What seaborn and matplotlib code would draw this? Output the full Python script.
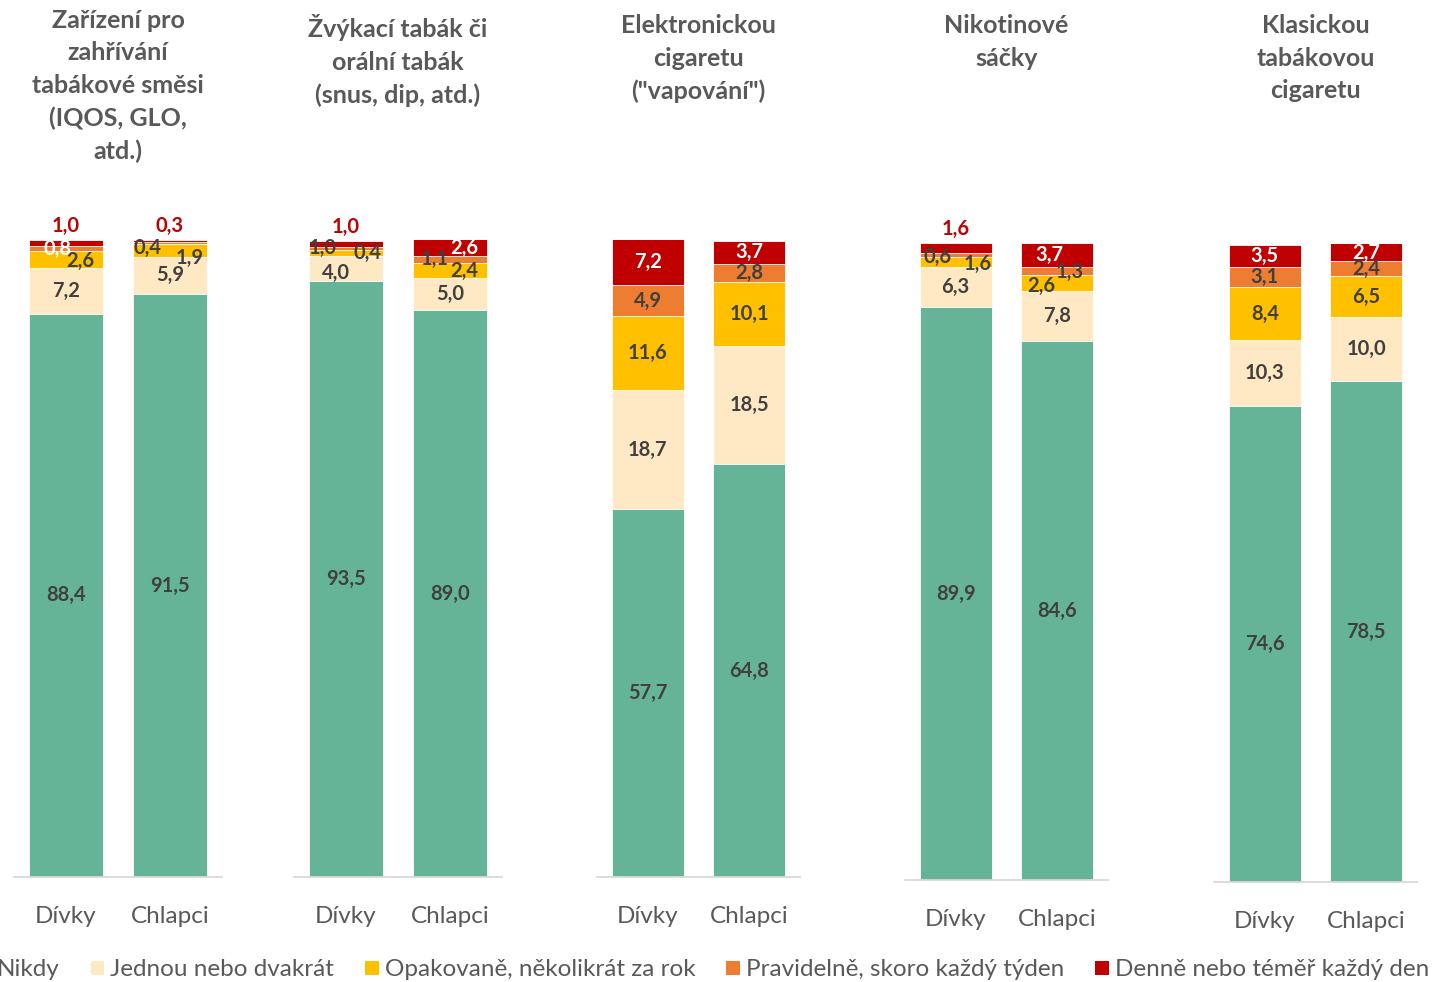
import numpy as np
import pandas as pd
import matplotlib
matplotlib.use("Agg")
import matplotlib.pyplot as plt
from matplotlib.patches import Patch
import seaborn as sns

# ---------------- data ----------------
titles = [
    "Zařízení pro\nzahřívání\ntabákové směsi\n(IQOS, GLO,\natd.)",
    "Žvýkací tabák či\norální tabák\n(snus, dip, atd.)",
    "Elektronickou\ncigaretu\n(\"vapování\")",
    "Nikotinové\nsáčky",
    "Klasickou\ntabákovou\ncigaretu",
]
genders = ["Dívky", "Chlapci"]
series_names = [
    "Nikdy",
    "Jednou nebo dvakrát",
    "Opakovaně, několikrát za rok",
    "Pravidelně, skoro každý týden",
    "Denně nebo téměř každý den",
]
# values per bar: (panel1 Dívky, panel1 Chlapci, panel2 Dívky, ...)
nikdy      = [88.4, 91.5, 93.5, 89.0, 57.7, 64.8, 89.9, 84.6, 74.6, 78.5]
jednou     = [7.2, 5.9, 4.0, 5.0, 18.7, 18.5, 6.3, 7.8, 10.3, 10.0]
opakovane  = [2.6, 1.9, 1.0, 2.4, 11.6, 10.1, 1.6, 2.6, 8.4, 6.5]
pravidelne = [0.8, 0.4, 0.4, 1.1, 4.9, 2.8, 0.6, 1.3, 3.1, 2.4]
denne      = [1.0, 0.3, 1.0, 2.6, 7.2, 3.7, 1.6, 3.7, 3.5, 2.7]

# ---------------- style ----------------
colors = ["#66B497", "#FFE9C4", "#FFC000", "#ED7D31", "#C00000"]
TXT = "#595959"
LBL = "#404040"
sns.set_theme(style="white")
plt.rcParams["font.family"] = ["Lato", "DejaVu Sans"]

W, H = 1448, 982
fig = plt.figure(figsize=(W / 100, H / 100), dpi=100)

# axes pixel boxes (left, right, top, bottom)
boxes = [(14, 222, 240, 877), (294, 502, 240, 877), (597, 800, 240, 877),
         (905, 1108, 243, 880), (1214, 1417, 244, 882)]
title_tops = [9, 14, 14, 14, 14]

# manual label nudges in pixels (dx, dy down) : key (bar, series)
nudges = {
    (0, 3): (-9, 0), (0, 2): (14, 1),
    (1, 3): (-22, 5), (1, 2): (20, 7),
    (2, 2): (-23, -5), (2, 3): (22, 5), (2, 1): (-10, 4),
    (3, 4): (14, 0), (3, 3): (-15, 0), (3, 2): (14, 0),
    (6, 3): (-18, 2), (6, 2): (22, 2),
    (7, 4): (-8, 0), (7, 3): (12, 1), (7, 2): (-16, 3),
    (9, 4): (0, 1), (9, 3): (0, 1),
}
white_labels = {(0, 3)}

data = pd.DataFrame({
    "bar": np.arange(10),
    "panel": np.repeat(np.arange(5), 2),
    "gender": genders * 5,
    series_names[0]: nikdy,
    series_names[1]: jednou,
    series_names[2]: opakovane,
    series_names[3]: pravidelne,
    series_names[4]: denne,
})
cum = data[series_names].cumsum(axis=1)

PX = 0.72  # points per pixel at 100 dpi
VFS = 14.5

for p in range(5):
    l, r, t, b = boxes[p]
    ax = fig.add_axes([l / W, 1 - b / H, (r - l) / W, (b - t) / H])
    sub = data[data.panel == p]
    subcum = cum[data.panel == p]
    # stacked bars drawn as overlapping cumulative bars (top layer first)
    for k in range(4, -1, -1):
        d = pd.DataFrame({"gender": sub["gender"].values,
                          "val": subcum[series_names[k]].values})
        sns.barplot(data=d, x="gender", y="val", color=colors[k],
                    saturation=1, width=0.71, errorbar=None, ax=ax,
                    edgecolor="white", linewidth=0.6, order=genders)
    ax.set_xlim(-0.5, 1.5)
    ax.set_ylim(0, 100)
    ax.set_xlabel("")
    ax.set_ylabel("")
    ax.set_yticks([])
    for s in ["top", "right", "left"]:
        ax.spines[s].set_visible(False)
    ax.spines["bottom"].set_color("#D9D9D9")
    ax.spines["bottom"].set_linewidth(1.3)
    ax.tick_params(axis="x", length=0, pad=21, labelsize=17.5, labelcolor=TXT)

    # value labels
    for gi in range(2):
        bi = p * 2 + gi
        row = data.iloc[bi]
        base = 0.0
        for k in range(5):
            v = row[series_names[k]]
            txt = f"{v:.1f}".replace(".", ",")
            dx, dy = nudges.get((bi, k), (0, 0))
            if k == 4 and v < 2:
                ax.annotate(txt, xy=(gi, base + v), xytext=(0, 14 * PX),
                            textcoords="offset points", ha="center", va="center",
                            fontsize=VFS, fontweight="bold", color="#C00000",
                            annotation_clip=False)
            else:
                col = "white" if (k == 4 or (bi, k) in white_labels) else LBL
                ax.annotate(txt, xy=(gi, base + v / 2), xytext=(dx * PX, -dy * PX),
                            textcoords="offset points", ha="center", va="center",
                            fontsize=VFS, fontweight="bold", color=col,
                            annotation_clip=False)
            base += v

    fig.text((l + r) / 2 / W, 1 - title_tops[p] / H, titles[p], ha="center", va="top",
             fontsize=18, fontweight="bold", color=TXT, linespacing=1.5)

handles = [Patch(facecolor=c, edgecolor="none") for c in colors]
fig.legend(handles, series_names, loc="center right", bbox_to_anchor=(1441 / W, 1 - 970 / H),
           ncol=5, frameon=False, fontsize=17.5, handlelength=0.55, handleheight=0.55,
           handletextpad=0.25, columnspacing=1.28, borderpad=0, labelcolor=TXT)

fig.savefig("out.png", dpi=100)
